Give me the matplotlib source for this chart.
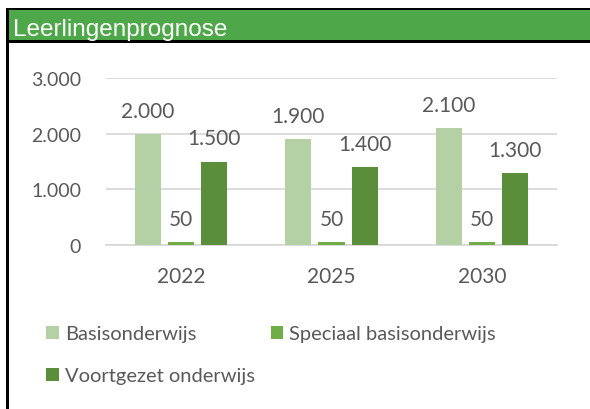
import matplotlib
matplotlib.use("Agg")
import matplotlib.pyplot as plt
from matplotlib.patches import Rectangle
import numpy as np

categories = ["2022", "2025", "2030"]
series_names = ["Basisonderwijs", "Speciaal basisonderwijs", "Voortgezet onderwijs"]
basis = [2000, 1900, 2100]
speciaal = [50, 50, 50]
voortgezet = [1500, 1400, 1300]
yticks = [0, 1000, 2000, 3000]
ytick_labels = ["0", "1.000", "2.000", "3.000"]
title = "Leerlingenprognose"

colors = ["#B4D1A5", "#70AD47", "#5B8E3B"]
text_col = "#595959"
FONT = "Lato"

W, H = 590, 410
fig = plt.figure(figsize=(W / 100, H / 100), dpi=100)
fig.patch.set_facecolor("white")

def fx(px):
    return px / W

def fy(py):
    return 1 - py / H

# frame elements
fig.add_artist(Rectangle((fx(9), fy(41)), fx(W), 30 / H, transform=fig.transFigure,
                         facecolor="#4EA849", edgecolor="none"))
fig.add_artist(Rectangle((fx(6), fy(11)), fx(W), 2 / H, transform=fig.transFigure,
                         facecolor="black", edgecolor="none"))
fig.add_artist(Rectangle((fx(6), fy(44)), fx(W), 3 / H, transform=fig.transFigure,
                         facecolor="black", edgecolor="none"))
fig.add_artist(Rectangle((fx(6), 0), 3 / W, fy(9), transform=fig.transFigure,
                         facecolor="black", edgecolor="none"))
fig.text(fx(13), fy(36), title, color="white", fontsize=17.5,
         family="Liberation Sans", va="baseline", ha="left")

ax = fig.add_axes([fx(106), fy(246), fx(557) - fx(106), (246 - 79) / H])
x = np.arange(len(categories))
bw = 0.173
off = 0.22
data = [basis, speciaal, voortgezet]
bars = []
for i, (vals, name, c) in enumerate(zip(data, series_names, colors)):
    b = ax.bar(x + (i - 1) * off, vals, width=bw, color=c, label=name, zorder=3)
    bars.append(b)
    for rect, v in zip(b, vals):
        lab = f"{v:,}".replace(",", ".")
        ax.annotate(lab, (rect.get_x() + rect.get_width() / 2, rect.get_height()),
                    xytext=(0, 17), textcoords="offset pixels", ha="center",
                    va="baseline", fontsize=15, color=text_col, family=FONT)

ax.set_xlim(-0.5, len(categories) - 0.5)
ax.set_ylim(0, 3000)
ax.set_yticks(yticks)
ax.set_yticklabels(ytick_labels)
ax.set_xticks(x)
ax.set_xticklabels(categories)
ax.tick_params(length=0, colors=text_col, labelsize=15)
ax.tick_params(axis="y", pad=18, labelsize=14)
ax.tick_params(axis="x", pad=15)
for lbl in ax.get_xticklabels() + ax.get_yticklabels():
    lbl.set_family(FONT)
ax.grid(axis="y", color="#D9D9D9", linewidth=1.3, zorder=0)
for s in ["top", "right", "left"]:
    ax.spines[s].set_visible(False)
ax.spines["bottom"].set_color("#D9D9D9")
ax.spines["bottom"].set_linewidth(1.3)
ax.set_facecolor("none")

handles = [bars[0], bars[2], bars[1]]
labels = [series_names[0], series_names[2], series_names[1]]
leg = fig.legend(handles, labels, ncol=2, loc="upper left",
                 bbox_to_anchor=(fx(28), fy(308)), frameon=False,
                 prop={"family": FONT, "size": 14.5}, handlelength=0.62,
                 handleheight=0.62, handletextpad=0.3, columnspacing=0.8,
                 labelspacing=1.25, labelcolor=text_col)

fig.savefig("out.png", dpi=100)
